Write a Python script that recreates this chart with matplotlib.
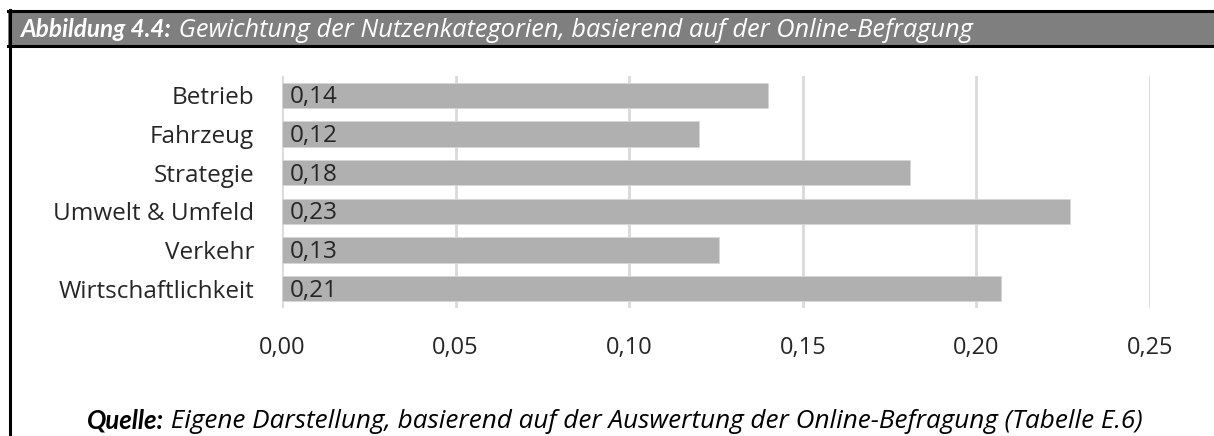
import matplotlib
matplotlib.use('Agg')
from matplotlib import pyplot as plt
from matplotlib.lines import Line2D
from matplotlib.patches import Rectangle

# data
categories = ['Betrieb', 'Fahrzeug', 'Strategie', 'Umwelt & Umfeld', 'Verkehr', 'Wirtschaftlichkeit']
weights = [0.140, 0.120, 0.181, 0.227, 0.126, 0.207]
weight_labels = ['0,14', '0,12', '0,18', '0,23', '0,13', '0,21']
x_ticks = [0.00, 0.05, 0.10, 0.15, 0.20, 0.25]
x_tick_labels = ['0,00', '0,05', '0,10', '0,15', '0,20', '0,25']

title_bold = 'Abbildung 4.4:'
title_rest = ' Gewichtung der Nutzenkategorien, basierend auf der Online-Befragung'
source_bold = 'Quelle:'
source_rest = ' Eigene Darstellung, basierend auf der Auswertung der Online-Befragung (Tabelle E.6)'

W, H = 1214, 436
fig = plt.figure(figsize=(W / 100, H / 100), dpi=100)

axis_font = 'Open Sans'
bold_font = 'Lato'
text_color = '#262626'

# --- header band + frame ---
fig.patches.append(Rectangle((8 / W, 1 - 46 / H), 1 - 8 / W, 35 / H, transform=fig.transFigure,
                             facecolor='#7f7f7f', edgecolor='none', zorder=0))
for yy in (11, 46):
    fig.lines.append(Line2D([8 / W, 1], [1 - yy / H, 1 - yy / H], transform=fig.transFigure,
                            color='black', linewidth=2.2))
fig.lines.append(Line2D([10 / W, 10 / W], [1 - 10 / H, 0], transform=fig.transFigure,
                        color='black', linewidth=2.2))

# --- bar chart ---
ax = fig.add_axes([282 / W, 1 - 308 / H, (1150 - 282) / W, 232 / H])
y_pos = list(range(len(categories)))
ax.barh(y_pos, weights, height=0.66, color='#b0b0b0', edgecolor='#d6d6d6', linewidth=0.6, zorder=2)
ax.set_xlim(0, 0.25)
ax.set_ylim(len(categories) - 0.5, -0.5)
ax.set_yticks(y_pos)
ax.set_yticklabels(categories, fontsize=17.5, family=axis_font, color=text_color)
ax.set_xticks(x_ticks)
ax.set_xticklabels(x_tick_labels, fontsize=17, family=axis_font, color=text_color)
ax.tick_params(axis='y', length=0, pad=20)
ax.tick_params(axis='x', length=0, pad=20)
ax.grid(axis='x', color='#d9d9d9', linewidth=2, zorder=0)
ax.set_axisbelow(True)
for side in ax.spines.values():
    side.set_visible(False)

for yi, lab in zip(y_pos, weight_labels):
    ax.annotate(lab, xy=(0, yi), xytext=(8, -2), textcoords='offset pixels',
                ha='left', va='center', fontsize=17.5, family=axis_font, color=text_color, zorder=3)

# --- header and source captions (bold part followed by regular part) ---
fig.canvas.draw()
renderer = fig.canvas.get_renderer()


def caption(x, y, bold, rest, color, bold_size, rest_size):
    t1 = fig.text(x, y, bold, fontsize=bold_size, family=bold_font, fontweight='bold',
                  style='italic', color=color, va='baseline', ha='left')
    bb = t1.get_window_extent(renderer)
    t2 = fig.text(bb.x1 / W, y, rest, fontsize=rest_size, family=axis_font,
                  style='italic', color=color, va='baseline', ha='left')
    return t1, t2


caption(21 / W, 1 - 37 / H, title_bold, title_rest, 'white', 17.5, 18.3)

# centre the source line under the chart area
t1, t2 = caption(0, 1 - 428 / H, source_bold, source_rest, 'black', 18.5, 18.8)
w1 = t1.get_window_extent(renderer).width
w2 = t2.get_window_extent(renderer).width
start = 615 - (w1 + w2) / 2
t1.set_x(start / W)
t2.set_x((start + w1) / W)

fig.savefig('out.png', dpi=100)
